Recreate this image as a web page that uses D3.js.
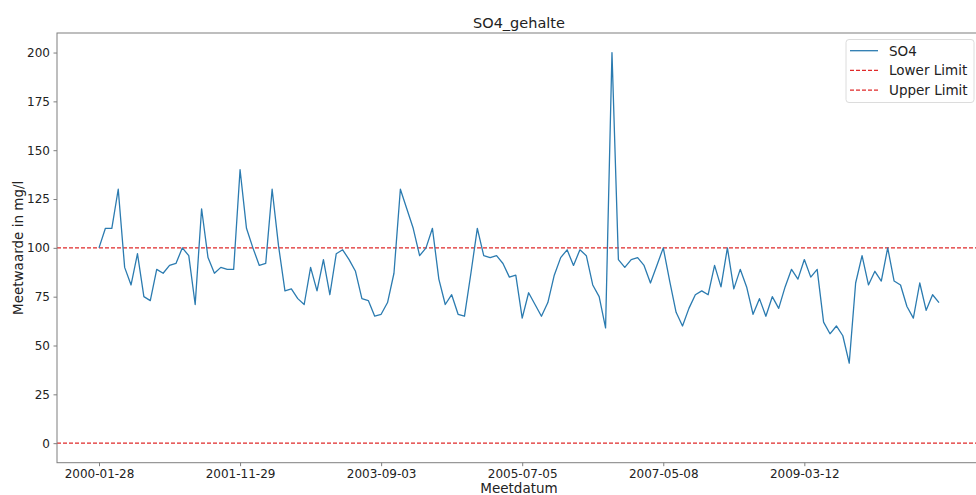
<!DOCTYPE html>
<html>
<head>
<meta charset="utf-8">
<script src="https://cdn.jsdelivr.net/npm/d3@7"></script>
<style>
  html, body { margin: 0; padding: 0; background: #fff; }
  svg { display: block; font-family: "DejaVu Sans", sans-serif; }
</style>
</head>
<body>
<svg id="chart" width="976" height="495"></svg>
<script>
// ---- data ----
const title = "SO4_gehalte";
const xLabel = "Meetdatum";
const yLabel = "Meetwaarde in mg/l";
const so4Values = [
  100,110,110,130,90,81,97,75,73,89,87,91,92,100,96,71,120,95,87,90,89,89,
  140,110,100,91,92,130,101,78,79,74,71,90,78,94,76,97,99,94,88,74,73,65,
  66,72,87,130,120,110,96,100,110,84,71,76,66,65,87,110,96,95,96,92,85,86,
  64,77,71,65,72,86,95,99,91,99,96,81,75,59,200,94,90,94,95,91,82,91,
  100,83,67,60,69,76,78,76,91,80,100,79,89,80,66,74,65,75,69,80,89,84,
  94,85,89,62,56,60,55,41,82,96,81,88,83,100,83,81,70,64,82,68,76,72
];
const tickIndices = [0, 22, 44, 66, 88, 110];
const tickLabels = ["2000-01-28", "2001-11-29", "2003-09-03", "2005-07-05", "2007-05-08", "2009-03-12"];
const yTicks = [0, 25, 50, 75, 100, 125, 150, 175, 200];
const lowerLimit = 0;
const upperLimit = 100;
const legendLabels = ["SO4", "Lower Limit", "Upper Limit"];

(function () {
// ---- layout ----
const svg = d3.select("#chart");
const mLeft = 57, mRight = 981, mTop = 33, mBottom = 462.7;
const lineColor = "#2b7bb0";
const limitColor = "#e02a2a";
const n = so4Values.length;
const pad = (n - 1) * 0.05;

const x = d3.scaleLinear().domain([-pad, n - 1 + pad]).range([mLeft, mRight]);
const y = d3.scaleLinear().domain([-10, 210]).range([mBottom, mTop]);

// limit lines
[lowerLimit, upperLimit].forEach(v => {
  svg.append("line")
    .attr("x1", mLeft).attr("x2", mRight)
    .attr("y1", y(v)).attr("y2", y(v))
    .attr("stroke", limitColor).attr("stroke-width", 1.4)
    .attr("stroke-dasharray", "4,2");
});

// series line
const line = d3.line().x((d, i) => x(i)).y(d => y(d));
svg.append("path").datum(so4Values)
  .attr("d", line)
  .attr("fill", "none")
  .attr("stroke", lineColor)
  .attr("stroke-width", 1.3)
  .attr("stroke-linejoin", "round");

// frame
svg.append("rect")
  .attr("x", mLeft).attr("y", mTop)
  .attr("width", mRight - mLeft).attr("height", mBottom - mTop)
  .attr("fill", "none").attr("stroke", "#7f7f7f").attr("stroke-width", 1);

// axes
const xAxis = d3.axisBottom(x)
  .tickValues(tickIndices)
  .tickFormat((d, i) => tickLabels[i])
  .tickSize(3.5).tickPadding(3.5);
const gx = svg.append("g").attr("transform", `translate(0,${mBottom})`).call(xAxis);
gx.select(".domain").remove();
gx.selectAll("line").attr("stroke", "#7f7f7f");
gx.selectAll("text").attr("font-size", 12).attr("fill", "#222")
  .attr("font-family", "DejaVu Sans");

const yAxis = d3.axisLeft(y).tickValues(yTicks).tickSize(3.5).tickPadding(3.5);
const gy = svg.append("g").attr("transform", `translate(${mLeft},0)`).call(yAxis);
gy.select(".domain").remove();
gy.selectAll("line").attr("stroke", "#7f7f7f");
gy.selectAll("text").attr("font-size", 12).attr("fill", "#222")
  .attr("font-family", "DejaVu Sans");

// title & labels
svg.append("text").attr("x", (mLeft + mRight) / 2).attr("y", 28)
  .attr("text-anchor", "middle").attr("font-size", 14.5).attr("fill", "#222")
  .text(title);
svg.append("text").attr("x", (mLeft + mRight) / 2).attr("y", 493)
  .attr("text-anchor", "middle").attr("font-size", 13.5).attr("fill", "#222")
  .text(xLabel);
svg.append("text")
  .attr("transform", `translate(23,${(mTop + mBottom) / 2}) rotate(-90)`)
  .attr("text-anchor", "middle").attr("font-size", 13.5).attr("fill", "#222")
  .text(yLabel);

// legend
const lg = svg.append("g");
lg.append("rect").attr("x", 846).attr("y", 39.5).attr("width", 128).attr("height", 63)
  .attr("rx", 3).attr("fill", "#fff").attr("fill-opacity", 0.85)
  .attr("stroke", "#dcdcdc").attr("stroke-width", 1);
const rowY = [50.7, 70.4, 90.1];
legendLabels.forEach((lab, i) => {
  lg.append("line").attr("x1", 850).attr("x2", 878).attr("y1", rowY[i]).attr("y2", rowY[i])
    .attr("stroke", i === 0 ? lineColor : limitColor)
    .attr("stroke-width", i === 0 ? 1.3 : 1.4)
    .attr("stroke-dasharray", i === 0 ? null : "4,2");
  lg.append("text").attr("x", 889).attr("y", rowY[i] + 4.8)
    .attr("font-size", 13.5).attr("fill", "#222").text(lab);
});
})();
</script>
</body>
</html>
